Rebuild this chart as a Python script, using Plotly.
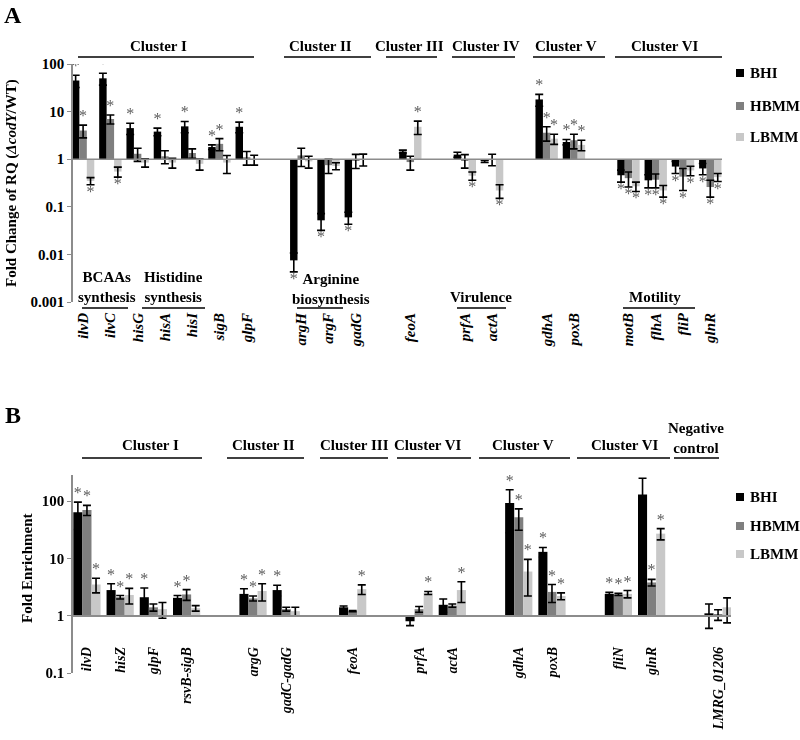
import plotly.graph_objects as go

# ---------------- data ----------------
series = ["BHI", "HBMM", "LBMM"]
colors = ["#000000", "#7f7f7f", "#c8c8c8"]

# Panel A: fold change of RQ (ΔcodY/WT)
clusters_A = [
    ["ilvD", "ilvC", "hisG", "hisA", "hisI", "sigB", "glpF"],
    ["argH", "argF", "gadG"],
    ["feoA"],
    ["prfA", "actA"],
    ["gdhA", "poxB"],
    ["motB", "flhA", "fliP", "glnR"],
]
genes_A = [g for c in clusters_A for g in c]
BHI_A = [45, 50, 4.5, 3.8, 4.9, 1.8, 4.8, 0.0075, 0.052, 0.06, 1.45, 1.25, 0.9, 18, 2.3, 0.46, 0.36, 0.7, 0.64]
BHI_A_err = [13, 14, 1.2, 0.7, 1.3, 0.2, 1.2, 0.0032, 0.02, 0.017, 0.1, 0.15, 0.05, 5, 0.3, 0.13, 0.11, 0.2, 0.17]
HBMM_A = [4.0, 7.0, 1.3, 1.15, 1.35, 2.1, 1.1, 1.2, 0.75, 0.95, 0.87, 0.95, 1.0, 3.6, 2.5, 0.4, 0.37, 0.43, 0.26]
HBMM_A_err = [1.2, 1.5, 0.4, 0.35, 0.3, 0.6, 0.35, 0.5, 0.25, 0.31, 0.28, 0.3, 0.27, 1.2, 0.85, 0.14, 0.12, 0.21, 0.1]
LBMM_A = [0.35, 0.55, 0.85, 0.85, 0.8, 0.85, 0.98, 0.9, 0.72, 1.0, 4.8, 0.45, 0.22, 2.7, 2.0, 0.27, 0.22, 0.58, 0.42]
LBMM_A_err = [0.06, 0.13, 0.17, 0.2, 0.21, 0.35, 0.23, 0.25, 0.12, 0.28, 1.5, 0.09, 0.07, 0.65, 0.5, 0.06, 0.06, 0.13, 0.08]
sig_BHI_A = [1, 1, 1, 1, 1, 1, 1, 1, 1, 1, 0, 0, 0, 1, 1, 1, 1, 1, 1]
sig_HBMM_A = [1, 1, 0, 0, 0, 1, 0, 0, 0, 0, 0, 0, 0, 1, 1, 1, 1, 1, 1]
sig_LBMM_A = [1, 1, 0, 0, 0, 0, 0, 0, 0, 0, 1, 1, 1, 1, 1, 1, 1, 1, 1]

# Panel B: fold enrichment
clusters_B = [
    ["ilvD", "hisZ", "glpF", "rsvB-sigB"],
    ["argG", "gadC-gadG"],
    ["feoA"],
    ["prfA", "actA"],
    ["gdhA", "poxB"],
    ["fliN", "glnR"],
    ["LMRG_01206"],
]
genes_B = [g for c in clusters_B for g in c]
BHI_B = [64, 2.8, 2.1, 2.05, 2.4, 2.8, 1.4, 0.8, 1.55, 93, 13, 2.4, 130, 1.1]
BHI_B_err = [32, 0.8, 0.95, 0.2, 0.55, 0.6, 0.08, 0.13, 0.4, 65, 2.5, 0.15, 120, 0.5]
HBMM_B = [70, 2.1, 1.4, 2.35, 2.0, 1.3, 1.2, 1.3, 1.5, 52, 2.6, 2.35, 3.8, 1.05]
HBMM_B_err = [14, 0.15, 0.2, 0.5, 0.2, 0.1, 0.03, 0.15, 0.1, 21, 0.9, 0.1, 0.5, 0.22]
LBMM_B = [3.5, 2.3, 1.3, 1.35, 2.7, 1.2, 2.9, 2.5, 2.8, 5.9, 2.2, 2.4, 27, 1.4]
LBMM_B_err = [1.0, 0.7, 0.4, 0.15, 0.9, 0.2, 0.55, 0.15, 1.1, 3.7, 0.3, 0.35, 6, 0.65]
sig_BHI_B = [1, 1, 1, 1, 1, 1, 0, 0, 0, 1, 1, 1, 1, 0]
sig_HBMM_B = [1, 1, 0, 1, 1, 0, 0, 0, 0, 1, 1, 1, 1, 0]
sig_LBMM_B = [1, 1, 0, 0, 1, 0, 1, 1, 1, 1, 1, 1, 1, 0]

yticks_A = [0.001, 0.01, 0.1, 1, 10, 100]
yticks_B = [0.1, 1, 10, 100]

# ---------------- helpers ----------------
W, H = 800, 740
FONT = "Liberation Serif"
STAR = "#5a5a5a"


def px(x):
    return x / W


def py(y):
    return 1 - y / H


def category_order(clusters):
    order = []
    for i, c in enumerate(clusters):
        if i:
            order.append("gap%d" % i)
        order.extend(c)
    return order


fig = go.Figure()

panels = [
    ("A", genes_A, [BHI_A, HBMM_A, LBMM_A], [BHI_A_err, HBMM_A_err, LBMM_A_err],
     [sig_BHI_A, sig_HBMM_A, sig_LBMM_A], "x", "y"),
    ("B", genes_B, [BHI_B, HBMM_B, LBMM_B], [BHI_B_err, HBMM_B_err, LBMM_B_err],
     [sig_BHI_B, sig_HBMM_B, sig_LBMM_B], "x2", "y2"),
]

for tag, genes, vals, errs, sigs, xa, ya in panels:
    for name, col, v, e in zip(series, colors, vals, errs):
        fig.add_trace(go.Bar(
            x=genes, y=[val - 1 for val in v], base=1,
            customdata=v, hovertemplate="%{x}: %{customdata}<extra>" + name + "</extra>",
            name=name, marker=dict(color=col, line=dict(width=0)),
            error_y=dict(type="data", array=e, visible=True, color="#000000",
                         thickness=1.6, width=4),
            xaxis=xa, yaxis=ya, showlegend=False,
            offsetgroup=tag + name,
        ))
    for name, v, e, s in zip(series, vals, errs, sigs):
        ys, pos = [], []
        for val, er, sg in zip(v, e, s):
            if not sg:
                ys.append(None)
                pos.append("top center")
            elif val >= 1:
                ys.append(val + er)
                pos.append("top center")
            else:
                ys.append(val - er)
                pos.append("bottom center")
        fig.add_trace(go.Scatter(
            x=genes, y=ys, mode="text", text=["*"] * len(genes),
            textposition=pos, textfont=dict(family=FONT, size=16, color=STAR),
            xaxis=xa, yaxis=ya, showlegend=False, hoverinfo="skip",
            offsetgroup=tag + name, opacity=0.99,
        ))

# ---------------- axes ----------------
domA_y = [py(302), py(64)]
rngA_y = [-3, 2]
domB_y = [py(673), py(475)]
rngB_y = [-1, 2.455]
posB_one = domB_y[0] + (0 - rngB_y[0]) / (rngB_y[1] - rngB_y[0]) * (domB_y[1] - domB_y[0])

tickfont = dict(family=FONT, size=15, color="#000000", weight="bold")
tickfontB = dict(family=FONT, size=14, color="#000000", weight="bold")
fmt = lambda g: "<b><i>%s</i></b>" % g

fig.update_layout(
    xaxis=dict(
        domain=[px(73), px(722)], anchor="y", type="category",
        categoryorder="array", categoryarray=category_order(clusters_A),
        range=[-0.37, 23.43], tickvals=genes_A, ticktext=[fmt(g) for g in genes_A],
        tickangle=-90, ticks="outside", ticklen=4, tickcolor="rgba(0,0,0,0)",
        showline=False, showgrid=False, zeroline=False, tickfont=tickfont,
    ),
    yaxis=dict(
        domain=domA_y, anchor="x", type="log", range=rngA_y,
        tickvals=yticks_A, ticktext=[str(t) for t in yticks_A],
        showline=True, linecolor="#8c8c8c", linewidth=1.5,
        ticks="outside", ticklen=4, tickcolor="#8c8c8c",
        showgrid=False, zeroline=False, tickfont=tickfont,
    ),
    xaxis2=dict(
        domain=[px(73), px(731)], anchor="free", position=posB_one, type="category",
        categoryorder="array", categoryarray=category_order(clusters_B),
        range=[-0.42, 19.39], tickvals=genes_B, ticktext=[fmt(g) for g in genes_B],
        tickangle=-90, ticks="outside", ticklen=25, tickcolor="rgba(0,0,0,0)",
        showline=True, linecolor="#8c8c8c", linewidth=1.5,
        showgrid=False, zeroline=False, tickfont=tickfontB,
    ),
    yaxis2=dict(
        domain=domB_y, anchor="x2", type="log", range=rngB_y,
        tickvals=yticks_B, ticktext=[str(t) for t in yticks_B],
        showline=True, linecolor="#8c8c8c", linewidth=1.5,
        ticks="outside", ticklen=4, tickcolor="#8c8c8c",
        showgrid=False, zeroline=False, tickfont=tickfont,
    ),
)

# baseline at 1 in panel A
fig.add_shape(type="line", xref="x domain", yref="y", x0=0, x1=1, y0=1, y1=1,
              line=dict(color="#8c8c8c", width=1.5))

# ---------------- annotations ----------------
ann = []


def text(t, x, y, size=15, angle=0, xanchor="center"):
    ann.append(dict(text=t, x=px(x), y=py(y), xref="paper", yref="paper",
                    showarrow=False, xanchor=xanchor, yanchor="middle", textangle=angle,
                    font=dict(family=FONT, size=size, color="#000000")))


def hline(x0, x1, y):
    fig.add_shape(type="line", xref="paper", yref="paper", x0=px(x0), x1=px(x1),
                  y0=py(y), y1=py(y), line=dict(color="#000000", width=1.5))


text("<b>A</b>", 13, 15, size=24)
text("<b>B</b>", 13, 415, size=24)

headers_A = [("Cluster I", 158, 78, 254), ("Cluster II", 320, 284, 371),
             ("Cluster III", 410, 386, 437), ("Cluster IV", 486, 452, 515),
             ("Cluster V", 566, 533, 605), ("Cluster VI", 665, 615, 722)]
for t, cx, x0, x1 in headers_A:
    text("<b>%s</b>" % t, cx, 46)
    hline(x0, x1, 57)

headers_B = [("Cluster I", 150, 82, 202), ("Cluster II", 263, 227, 304),
             ("Cluster III", 354, 320, 388), ("Cluster VI", 428, 397, 471),
             ("Cluster V", 523, 479, 570), ("Cluster VI", 625, 577, 670)]
for t, cx, x0, x1 in headers_B:
    text("<b>%s</b>" % t, cx, 445)
    hline(x0, x1, 458)
text("<b>Negative<br>control</b>", 696, 438)
hline(674, 719, 458)

groups_A = [("BCAAs<br>synthesis", 107, 287, 82, 128), ("Histidine<br>synthesis", 173, 287, 142, 205),
            ("Arginine<br>biosynthesis", 331, 289, 297, 343), ("Virulence", 481, 297, 457, 506),
            ("Motility", 655, 297, 623, 695)]
for t, cx, cy, x0, x1 in groups_A:
    text("<b>%s</b>" % t, cx, cy)
    hline(x0, x1, 308)

text("<b>Fold Change of RQ (<i>\u0394codY</i>/WT)</b>", 11, 183, angle=-90)
text("<b>Fold Enrichment</b>", 27, 568, angle=-90)

# legends (one per panel), drawn as key squares + labels
for ys in ([73, 106, 137], [497, 526, 554]):
    for name, col, yc in zip(series, colors, ys):
        fig.add_shape(type="rect", xref="paper", yref="paper",
                      x0=px(736), x1=px(744), y0=py(yc + 4), y1=py(yc - 4),
                      fillcolor=col, line=dict(width=0))
        text("<b>%s</b>" % name, 748, yc, size=15, xanchor="left")

fig.update_layout(
    annotations=ann,
    width=W, height=H, autosize=False,
    margin=dict(l=0, r=0, t=0, b=0, autoexpand=False),
    template="none",
    paper_bgcolor="white", plot_bgcolor="white",
    font=dict(family=FONT, size=15, color="#000000"),
    barmode="group", bargap=0.18, bargroupgap=0,
    scattermode="group", scattergap=0.18,
    showlegend=False,
)

fig.write_html("out.html", config={"displayModeBar": False},
               post_script="document.body.style.margin='0px';")
